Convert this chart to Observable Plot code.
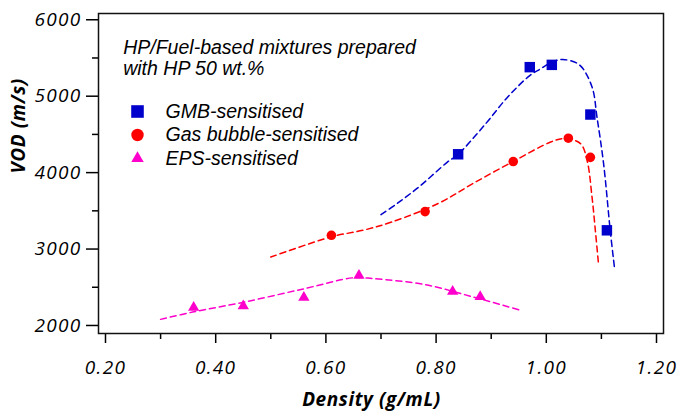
<!DOCTYPE html>
<html><head><meta charset="utf-8">
<script src="https://cdn.jsdelivr.net/npm/d3@7"></script>
<script src="https://cdn.jsdelivr.net/npm/@observablehq/plot@0.6"></script>
<style>
body{margin:0;background:#fff}
g[aria-label="x-axis tick label"], g[aria-label="y-axis tick label"]{letter-spacing:1.3px}
g[aria-label="text"].axis-title{letter-spacing:0.6px}
</style></head><body><div id="chart"></div>
<script>
// Measured points
const gmbDensity = [0.84, 0.97, 1.01, 1.08, 1.11];
const gmbVOD = [4240, 5380, 5410, 4760, 3245];
const gasDensity = [0.61, 0.78, 0.94, 1.04, 1.08];
const gasVOD = [3180, 3490, 4145, 4450, 4200];
const epsDensity = [0.36, 0.45, 0.56, 0.66, 0.83, 0.88];
const epsVOD = [2235, 2255, 2365, 2655, 2445, 2375];

// Dashed trend curves
const gmbFitDensity = [0.70, 0.73, 0.77, 0.82, 0.84, 0.89, 0.93, 0.97, 0.99, 1.01, 1.03, 1.06, 1.083, 1.092, 1.104, 1.116, 1.124];
const gmbFitVOD = [3450, 3600, 3820, 4135, 4240, 4640, 4990, 5270, 5360, 5445, 5480, 5410, 5120, 4725, 4115, 3245, 2740];
const gasFitDensity = [0.50, 0.61, 0.67, 0.72, 0.805, 0.87, 0.94, 1.008, 1.032, 1.062, 1.074, 1.083, 1.089, 1.095];
const gasFitVOD = [2895, 3160, 3250, 3355, 3600, 3870, 4146, 4400, 4445, 4380, 4160, 3680, 3245, 2785];
const epsFitDensity = [0.30, 0.358, 0.451, 0.56, 0.651, 0.687, 0.778, 0.868, 0.95];
const epsFitVOD = [2080, 2175, 2305, 2480, 2625, 2612, 2537, 2371, 2206];

// Series / legend
const seriesNames = ["GMB-sensitised", "Gas bubble-sensitised", "EPS-sensitised"];
const seriesColors = ["#0000CC", "#FF0000", "#FF00CC"];
const seriesSymbols = ["square", "circle", "triangle"];
const seriesR = [5.9, 4.8, 4.2];
const legendR = [7.1, 6.2, 4.6];

// Ticks
const xTicks = [0.2, 0.4, 0.6, 0.8, 1.0, 1.2];
const xMinorTicks = [0.3, 0.5, 0.7, 0.9, 1.1];
const yTicks = [2000, 3000, 4000, 5000, 6000];
const yMinorTicks = [2500, 3500, 4500, 5500];

const noteLines = "HP/Fuel-based mixtures prepared\nwith HP 50 wt.%";
const xTitle = "Density (g/mL)";
const yTitle = "VOD (m/s)";

const zip = (xs, ys) => xs.map((x, i) => ({x, y: ys[i]}));
const pts = [zip(gmbDensity, gmbVOD), zip(gasDensity, gasVOD), zip(epsDensity, epsVOD)];
const fits = [zip(gmbFitDensity, gmbFitVOD), zip(gasFitDensity, gasFitVOD), zip(epsFitDensity, epsFitVOD)];

const marks = [];
fits.forEach((f, i) => marks.push(Plot.line(f, {x: "x", y: "y", curve: "catmull-rom", stroke: seriesColors[i], strokeWidth: 1.5, strokeDasharray: "6,4"})));
pts.forEach((p, i) => marks.push(Plot.dot(p, {x: "x", y: "y", symbol: seriesSymbols[i], fill: seriesColors[i], stroke: "none", r: seriesR[i]})));

seriesNames.forEach((n, i) => {
  marks.push(Plot.dot([n], {frameAnchor: "top-left", dx: 39, dy: 98 + i * 23.5, symbol: seriesSymbols[i], fill: seriesColors[i], stroke: "none", r: legendR[i]}));
  marks.push(Plot.text([n], {text: d => d, frameAnchor: "top-left", dx: 67, dy: 98 + i * 23.5, textAnchor: "start", lineAnchor: "middle", fontFamily: "Liberation Sans, Arial, sans-serif", fontStyle: "italic", fontSize: 19.5, fill: "#000"}));
});

marks.push(Plot.text([noteLines], {text: d => d, frameAnchor: "top-left", dx: 24.7, dy: 24.9, textAnchor: "start", lineAnchor: "top", lineHeight: 1.1, fontFamily: "Liberation Sans, Arial, sans-serif", fontStyle: "italic", fontSize: 19.5, fill: "#000"}));

marks.push(Plot.axisX(xTicks, {tickSize: 10, tickPadding: 16.5, tickFormat: d3.format(".2f"), label: null, strokeWidth: 1.5, fill: "#000", fontSize: 19}));
marks.push(Plot.axisX(xMinorTicks, {tickSize: 6, tickFormat: () => "", label: null, strokeWidth: 1.5}));
marks.push(Plot.axisY(yTicks, {tickSize: 12, tickPadding: 5, tickFormat: d => String(d), label: null, strokeWidth: 1.5, fill: "#000", fontSize: 19}));
marks.push(Plot.axisY(yMinorTicks, {tickSize: 6, tickFormat: () => "", label: null, strokeWidth: 1.5}));
marks.push(Plot.frame({stroke: "#111", strokeWidth: 1.5}));

marks.push(Plot.text([xTitle], {text: d => d, className: "axis-title", frameAnchor: "bottom", dx: -9.5, dy: 66.5, lineAnchor: "middle", fontWeight: "bold", fontStyle: "italic", fontSize: 19, fill: "#000"}));
marks.push(Plot.text([yTitle], {text: d => d, className: "axis-title", frameAnchor: "left", dx: -80, rotate: -90, lineAnchor: "middle", fontWeight: "bold", fontStyle: "italic", fontSize: 19, fill: "#000"}));

const plot = Plot.plot({
  width: 677,
  height: 411,
  marginLeft: 98,
  marginRight: 14,
  marginTop: 13,
  marginBottom: 78,
  x: {domain: [0.1873, 1.2127]},
  y: {domain: [1895, 6082]},
  style: {fontFamily: "'Open Sans', sans-serif", fontSize: "19px", fontStyle: "italic", background: "#fff", color: "#000"},
  marks
});
document.getElementById("chart").appendChild(plot);
</script></body></html>
